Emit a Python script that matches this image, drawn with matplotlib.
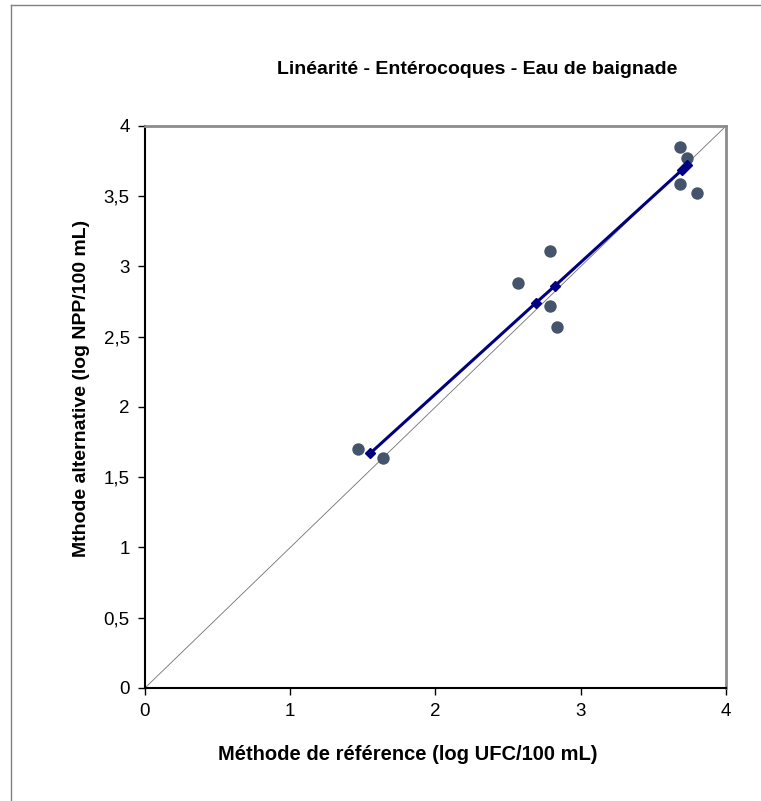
#Linearity plot - Enterococci - bathing water
import numpy as np
import matplotlib.pyplot as plt
from matplotlib.lines import Line2D

plt.rcParams['font.family'] = ['Liberation Sans', 'DejaVu Sans']

# Measured pairs (reference method vs alternative method)
x_ref = [1.47, 1.64, 2.57, 2.79, 2.79, 2.84, 3.68, 3.73, 3.68, 3.80]
y_alt = [1.70, 1.64, 2.88, 3.11, 2.72, 2.57, 3.85, 3.77, 3.59, 3.52]

# Fitted line points
x_fit = [1.55, 2.69, 2.82, 3.70, 3.73]
y_fit = [1.67, 2.74, 2.86, 3.69, 3.72]

ticks_x = [0, 1, 2, 3, 4]
ticks_y = [0, 0.5, 1, 1.5, 2, 2.5, 3, 3.5, 4]
tick_labels_y = ['0', '0,5', '1', '1,5', '2', '2,5', '3', '3,5', '4']

fig = plt.figure(figsize=(7.61, 8.01), dpi=100)
ax = fig.add_axes([0.1905, 0.1411, 0.7635, 0.7016])

# y = x reference line
ax.plot([0, 4], [0, 4], color='#707070', lw=0.6, zorder=1)

ax.plot(x_fit, y_fit, color='#000080', lw=2.2, marker='D', markersize=5,
        zorder=3)
ax.scatter(x_ref, y_alt, s=80, color='#44546A', zorder=2, linewidths=0)

ax.set_xlim(0, 4)
ax.set_ylim(0, 4)
ax.set_xticks(ticks_x)
ax.set_yticks(ticks_y)
ax.set_yticklabels(tick_labels_y)
ax.tick_params(labelsize=13.5, length=5, width=1, color='black', pad=6)

ax.spines['left'].set_color('black')
ax.spines['bottom'].set_color('black')
ax.spines['left'].set_linewidth(1.5)
ax.spines['bottom'].set_linewidth(1.5)
ax.spines['top'].set_color('#8c8c8c')
ax.spines['right'].set_color('#8c8c8c')
ax.spines['top'].set_linewidth(2)
ax.spines['right'].set_linewidth(2)

fig.text(477 / 761, 1 - 69 / 801, 'Linéarité - Entérocoques - Eau de baignade',
         ha='center', va='center', fontsize=14, fontweight='bold')
fig.text(408 / 761, 1 - 755 / 801, 'Méthode de référence (log UFC/100 mL)',
         ha='center', va='center', fontsize=14.5, fontweight='bold')
fig.text(82 / 761, 1 - 388 / 801, 'Mthode alternative (log NPP/100 mL)',
         ha='center', va='center', rotation=90, fontsize=14, fontweight='bold')

# outer frame (left and top only visible)
fig.add_artist(Line2D([11 / 761, 11 / 761], [0, 1 - 5 / 801], color='#808080', lw=1))
fig.add_artist(Line2D([11 / 761, 1], [1 - 5 / 801, 1 - 5 / 801], color='#808080', lw=1))

fig.savefig('out.png', dpi=100)
